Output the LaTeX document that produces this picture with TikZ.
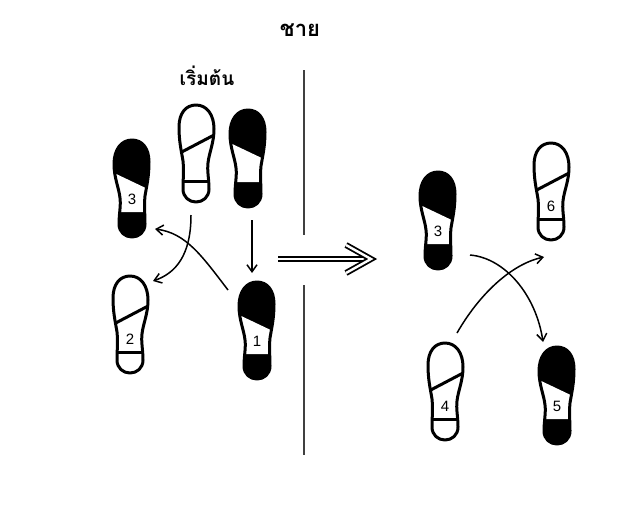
\documentclass[tikz,border=0pt]{standalone}
\usepackage{fontspec}
\newfontfamily\thaifont[Script=Thai]{Loma}
\newfontfamily\numfont{Liberation Sans}
\usetikzlibrary{arrows.meta}
\newcommand{\soleshape}{(0,0) .. controls (11,0) and (18,10) .. (18,24)
 .. controls (18,38) and (13,48) .. (12,58)
 .. controls (11,66) and (13,74) .. (13,84)
 .. controls (13,92) and (7,97) .. (0,97)
 .. controls (-7,97) and (-13,92) .. (-13,84)
 .. controls (-13,74) and (-12,66) .. (-13,56)
 .. controls (-15,44) and (-17,36) .. (-17,22)
 .. controls (-17,8) and (-10,0) .. (0,0) -- cycle}
% outline (left) foot: name, x, y(top), number
\newcommand{\whitefoot}[4]{%
 \coordinate (#1) at (#2,#3);
 \begin{scope}[shift={(#2,#3)}]
  \begin{scope}
   \clip \soleshape;
   \draw[soleline] (-20,50) -- (20,29);
   \draw[soleline] (-20,76) -- (20,76);
  \end{scope}
  \draw[soleline] \soleshape;
  \node[numlabel] (#1-n) at (0,63) {#4};
 \end{scope}}
% black (right) foot: name, x, y(top), number
\newcommand{\blackfoot}[4]{%
 \coordinate (#1) at (#2,#3);
 \begin{scope}[shift={(#2,#3)}]
  \begin{scope}[xscale=-1]
   \fill[black] \soleshape;
   \begin{scope}
    \clip \soleshape;
    \fill[white] (-20,51) -- (20,32) -- (20,72) -- (-20,72) -- cycle;
   \end{scope}
   \draw[soleline] \soleshape;
  \end{scope}
  \node[numlabel] (#1-n) at (0,59) {#4};
 \end{scope}}
\tikzset{
 soleline/.style={line width=3pt, line join=round},
 numlabel/.style={font=\numfont\fontsize{15}{15}\selectfont, inner sep=0pt},
 steparrow/.style={line width=1.5pt, -{Straight Barb[length=7pt,width=10pt,line width=1.5pt]}},
 divider/.style={line width=1.1pt, black!75},
 dblline/.style={double, line width=1.8pt, double distance=2.4pt, line join=miter},
 thailabel/.style={font=\thaifont\bfseries\fontsize{22}{22}\selectfont, inner sep=0pt}
}
\begin{document}
\begin{tikzpicture}[x=1pt,y=-1pt]
\useasboundingbox (0,0) rectangle (628,527);
\fill[white] (0,0) rectangle (628,527);
% labels
\node[thailabel] (man) at (300,30) {ชาย};
\node[thailabel, font=\thaifont\bfseries\fontsize{19}{19}\selectfont] (start) at (207,76) {เริ่มต้น};
% divider
\coordinate (d1) at (304,70); \coordinate (d2) at (304,235);
\coordinate (d3) at (304,285); \coordinate (d4) at (304,455);
\draw[divider] (d1) -- (d2);
\draw[divider] (d3) -- (d4);
% left group
\whitefoot{fa}{196}{105}{}
\blackfoot{fb}{248}{110}{}
\blackfoot{fl3}{132}{140}{3}
\whitefoot{fl2}{130}{276}{2}
\blackfoot{fl1}{257}{282}{1}
% right group
\blackfoot{fr3}{438}{172}{3}
\whitefoot{fr6}{551}{143}{6}
\whitefoot{fr4}{445}{343}{4}
\blackfoot{fr5}{557}{347}{5}
% connector ends
\coordinate (a1s) at (191,215); \coordinate (a1e) at (153,281);
\coordinate (a2s) at (228,290); \coordinate (a2e) at (155,229);
\coordinate (a3s) at (252,220); \coordinate (a3e) at (252,273);
\coordinate (a4s) at (278,259); \coordinate (a4e) at (369,259);
\coordinate (a4t) at (371,259);
\coordinate (a5s) at (470,255); \coordinate (a5e) at (543,342);
\coordinate (a6s) at (457,333); \coordinate (a6e) at (544,257);
\draw[steparrow] (a1s) .. controls (191,255) and (176,273) .. (a1e);
\draw[steparrow] (a2s) .. controls (202,256) and (186,233) .. (a2e);
\draw[steparrow] (a3s) -- (a3e);
\draw[dblline] (a4s) -- (a4e);
\draw[dblline] (a4t) ++(-25,-14) -- (a4t) -- ++(-25,14);
\draw[steparrow] (a5s) .. controls (505,258) and (536,295) .. (a5e);
\draw[steparrow] (a6s) .. controls (480,293) and (512,264) .. (a6e);
\end{tikzpicture}
\end{document}
